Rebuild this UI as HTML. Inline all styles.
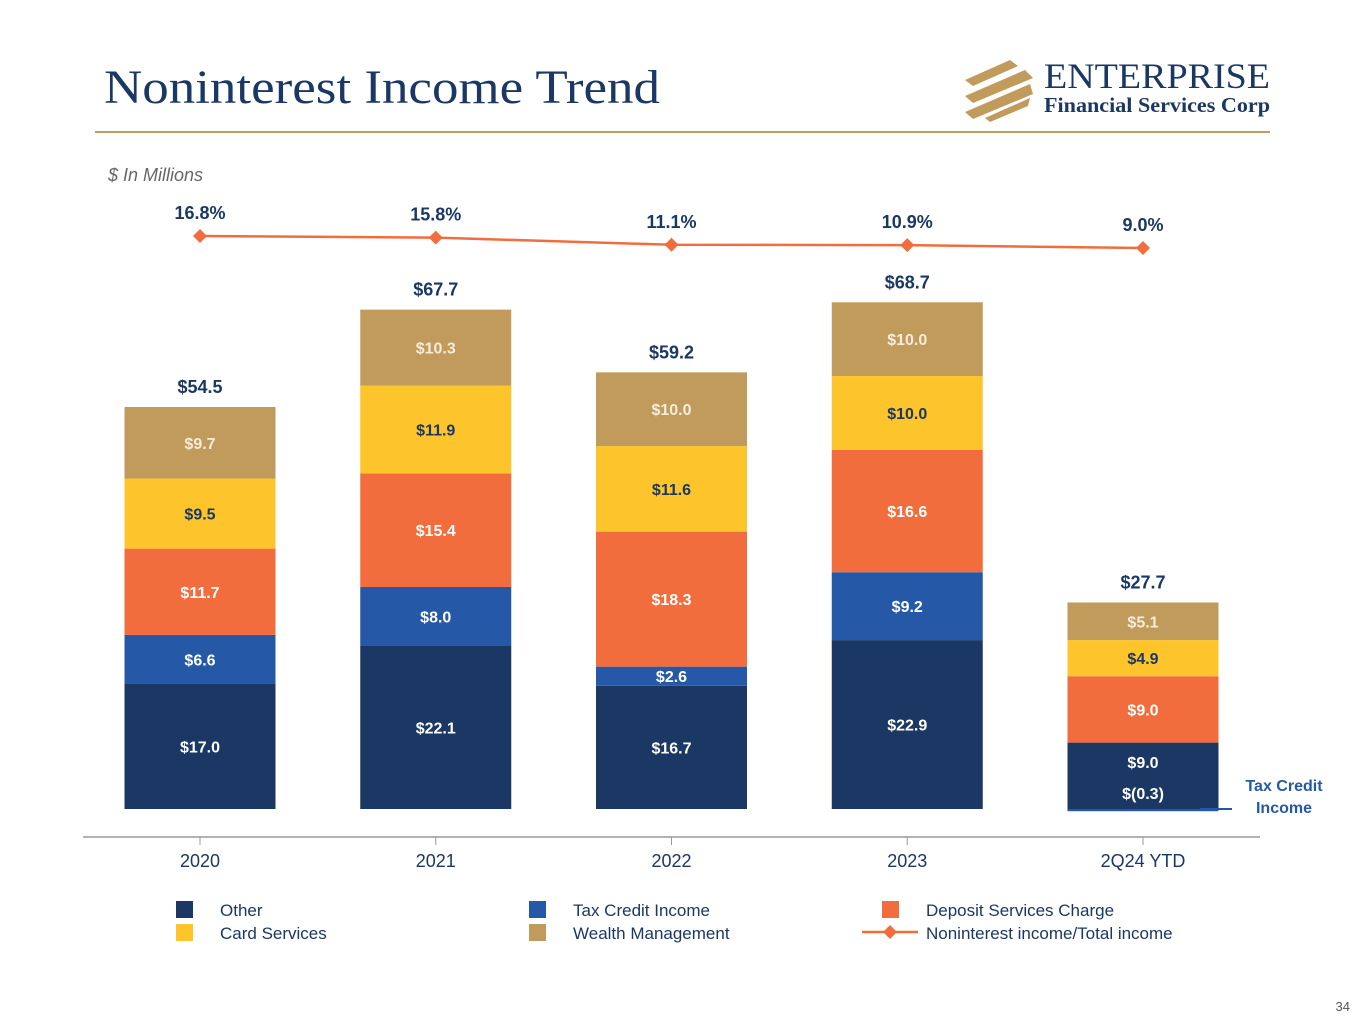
<!DOCTYPE html>
<html><head><meta charset="utf-8"><style>
body{margin:0;width:1365px;height:1024px;background:#fff;overflow:hidden;font-family:"Liberation Sans",sans-serif}
svg text{font-family:"Liberation Sans",sans-serif}
</style></head><body>
<svg id="chart" width="1365" height="1024">
<text x="104" y="103" font-size="48" fill="#1b3764" textLength="556" lengthAdjust="spacingAndGlyphs" style="font-family:'Liberation Serif',serif">Noninterest Income Trend</text>
<g>
<polygon points="965,80 1010,60 1018,66 973,86" fill="#c19b5c"/>
<polygon points="965,96 1025,70 1033,78 973,103" fill="#c19b5c"/>
<polygon points="965,112 1030,84 1033,94 973,119" fill="#c19b5c"/>
<polygon points="985,118 1030,98 1028,106 990,122" fill="#c19b5c"/>
<text x="1044" y="88" font-size="36" fill="#1b3764" textLength="226" lengthAdjust="spacingAndGlyphs" style="font-family:'Liberation Serif',serif">ENTERPRISE</text>
<text x="1044" y="112" font-size="21" font-weight="bold" fill="#1b3764" textLength="226" lengthAdjust="spacingAndGlyphs" style="font-family:'Liberation Serif',serif">Financial Services Corp</text>
</g>
<rect x="95" y="131" width="1175" height="2" fill="#c19b5c"/>
<text x="108" y="181" font-size="18" font-style="italic" fill="#666">$ In Millions</text>
<g id="bars"></g>
<line x1="83" y1="837" x2="1260" y2="837" stroke="#999" stroke-width="1.5"/>
<g id="axis"></g>
<g id="line"></g>
<text x="1284" y="791" font-size="16" font-weight="bold" fill="#2559a8" text-anchor="middle">Tax Credit</text>
<text x="1284" y="813" font-size="16" font-weight="bold" fill="#2559a8" text-anchor="middle">Income</text>
<line x1="1200" y1="809" x2="1232" y2="809" stroke="#2559a8" stroke-width="2"/>
<g id="legend" font-size="17" fill="#1b3764">
<rect x="176" y="901" width="17" height="17" fill="#1b3764"/><text x="220" y="916">Other</text>
<rect x="176" y="924" width="17" height="17" fill="#fdc52b"/><text x="220" y="939">Card Services</text>
<rect x="529" y="901" width="17" height="17" fill="#2559a8"/><text x="573" y="916">Tax Credit Income</text>
<rect x="529" y="924" width="17" height="17" fill="#c19b5c"/><text x="573" y="939">Wealth Management</text>
<rect x="882" y="901" width="17" height="17" fill="#f26d3d"/><text x="926" y="916">Deposit Services Charge</text>
<line x1="862" y1="932" x2="918" y2="932" stroke="#f26d3d" stroke-width="2.5"/>
<polygon points="890,925 897,932 890,939 883,932" fill="#f26d3d"/>
<text x="926" y="939">Noninterest income/Total income</text>
</g>
<text x="1350" y="1011" font-size="13" fill="#555" text-anchor="end">34</text>
</svg>
<script>
const categories=["2020","2021","2022","2023","2Q24 YTD"];
const other=[17.0,22.1,16.7,22.9,9.0];
const taxCredit=[6.6,8.0,2.6,9.2,-0.3];
const deposit=[11.7,15.4,18.3,16.6,9.0];
const card=[9.5,11.9,11.6,10.0,4.9];
const wealth=[9.7,10.3,10.0,10.0,5.1];
const totals=["$54.5","$67.7","$59.2","$68.7","$27.7"];
const ratio=[16.8,15.8,11.1,10.9,9.0];
const ns="http://www.w3.org/2000/svg";
const base=809,ppu=7.376,bw=151;
const xc=i=>200+i*235.75;
const yv=v=>base-v*ppu;
const yr=p=>261.9-p*1.54;
function mk(t,a,p){const e=document.createElementNS(ns,t);for(const k in a)e.setAttribute(k,a[k]);p.appendChild(e);return e;}
const fmt=v=>v<0?"$("+Math.abs(v).toFixed(1)+")":"$"+v.toFixed(1);
const series=[[other,"#1b3764","#fff","other"],[taxCredit,"#2559a8","#fff","tax-credit"],[deposit,"#f26d3d","#fff","deposit"],[card,"#fdc52b","#1b3764","card"],[wealth,"#c19b5c","#f5ecdc","wealth"]];
const bars=document.getElementById('bars');
categories.forEach((c,i)=>{
  let cum=0;
  const hasNeg=taxCredit[i]<0;
  series.forEach((s,si)=>{
    const v=s[0][i];let y0,y1;
    if(v<0){y0=base;y1=base-v*ppu;}else{y0=yv(cum+v);y1=yv(cum);cum+=v;}
    const r=mk('rect',{x:xc(i)-bw/2,y:y0,width:bw,height:Math.max(y1-y0,0),fill:s[1]},bars);
    
    
    let ly=(y0+y1)/2+6;
    if(v<0) ly=base-10;
    else if(si===0&&hasNeg) ly=(y0+y1)/2-8;
    const t=mk('text',{x:xc(i),y:ly,'text-anchor':'middle','font-size':16,'font-weight':'bold',fill:s[2]},bars);
    t.textContent=fmt(v);
    
    
  });
  const tt=mk('text',{x:xc(i),y:yv(cum)-14,'text-anchor':'middle','font-size':18,'font-weight':'bold',fill:'#1b3764'},bars);
  tt.textContent=totals[i];
  
  
});
const ax=document.getElementById('axis');
categories.forEach((c,i)=>{
  const l=mk('line',{x1:xc(i),y1:837,x2:xc(i),y2:845,stroke:'#999'},ax);
  
  
  const t=mk('text',{x:xc(i),y:867,'text-anchor':'middle','font-size':18,fill:'#1b3764'},ax);
  t.textContent=c;
  
  
});
const lg=document.getElementById('line');
const pl=mk('polyline',{points:ratio.map((p,i)=>xc(i)+","+yr(p)).join(" "),fill:'none',stroke:'#f26d3d','stroke-width':2.5},lg);


ratio.forEach((p,i)=>{
  const x=xc(i),y=yr(p);
  const d=mk('polygon',{points:`${x},${y-7} ${x+7},${y} ${x},${y+7} ${x-7},${y}`,fill:'#f26d3d'},lg);
  
  
  const t=mk('text',{x:x,y:y-17,'text-anchor':'middle','font-size':18,'font-weight':'bold',fill:'#1b3764'},lg);
  t.textContent=p.toFixed(1)+"%";
  
  
});
</script>
</body></html>
